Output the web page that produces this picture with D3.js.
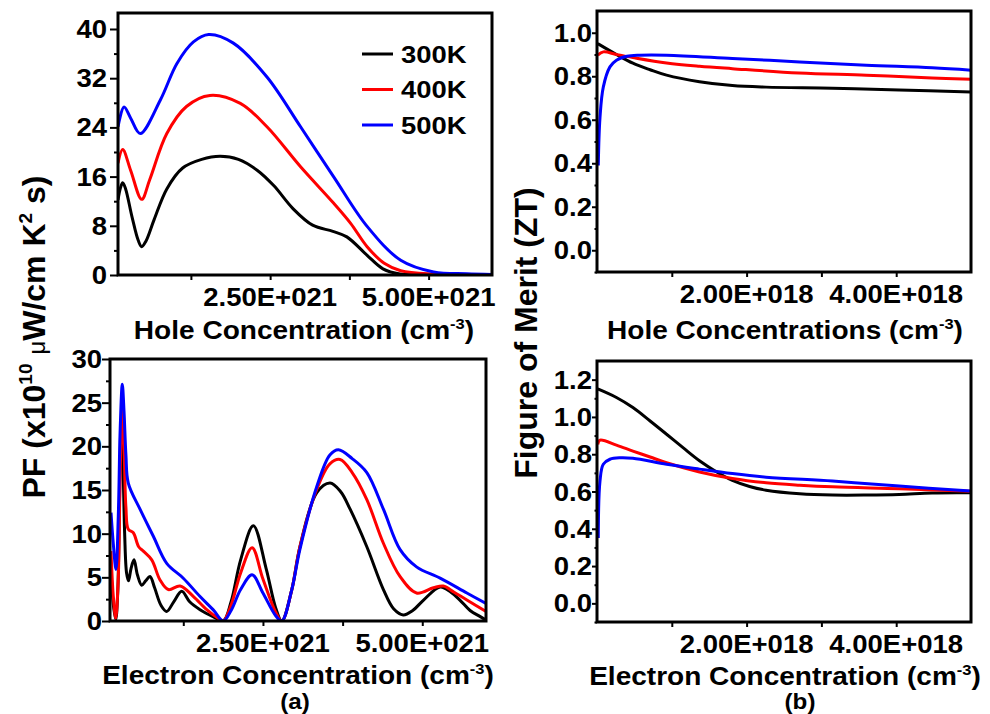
<!DOCTYPE html>
<html lang="en">
<head>
<meta charset="UTF-8">
<script src="https://cdn.jsdelivr.net/npm/d3@7"></script>
<title>PF and ZT</title>
<style>
  body { margin: 0; background: #fff; }
  svg { display: block; }
  text { font-family: "Liberation Sans", Arial, sans-serif; font-weight: bold; fill: #000; }
</style>
</head>
<body>
<div id="chart"></div>
<script>
// ---- data (x in 1e21 cm^-3 for PF panels, 1e18 cm^-3 for ZT panels) ----
var temps = ["300K", "400K", "500K"];
var colors = ["#000000", "#ff0000", "#0000ff"];

var pfHole300 = [[0.1,12.2],[0.14,14.2],[0.174,15.0],[0.22,14.0],[0.32,9.5],[0.42,5.6],[0.474,4.6],[0.54,5.5],[0.67,9.0],[0.87,14.0],[1.12,17.4],[1.42,18.8],[1.71,19.3],[2.0,18.8],[2.3,17.0],[2.56,14.5],[2.86,10.8],[3.17,8.1],[3.49,7.1],[3.71,6.2],[4.03,3.2],[4.28,1.0],[4.55,0.15],[5.0,0.02],[6.0,0]];
var pfHole400 = [[0.1,18.2],[0.174,20.4],[0.3,17.0],[0.474,12.3],[0.6,15.5],[0.87,23.0],[1.18,27.4],[1.55,29.2],[2.03,27.9],[2.45,24.1],[2.98,17.6],[3.5,11.7],[3.77,8.4],[4.03,4.6],[4.3,1.9],[4.56,0.7],[5.08,0.15],[5.6,0.05],[6.0,0.02]];
var pfHole500 = [[0.1,24.1],[0.195,27.3],[0.3,25.5],[0.45,23.0],[0.77,28.5],[1.03,34.4],[1.29,37.9],[1.53,39.1],[1.92,37.7],[2.45,32.2],[2.98,24.1],[3.5,16.0],[4.03,7.9],[4.56,2.4],[5.08,0.5],[5.6,0.2],[6.0,0.1]];

var pfElec300 = [[0.116,6],[0.15,2],[0.19,0.2],[0.22,3],[0.25,14],[0.275,23],[0.3,19],[0.33,10],[0.36,5.5],[0.39,4.6],[0.43,6],[0.477,7.0],[0.53,5.3],[0.598,4.1],[0.66,4.6],[0.728,5.1],[0.8,3.8],[0.9,1.8],[0.99,1.1],[1.1,2.2],[1.226,3.4],[1.35,2.2],[1.513,1.3],[1.717,0.5],[1.878,0],[2.0,2.2],[2.15,7.0],[2.35,10.9],[2.55,6.0],[2.7,1.5],[2.796,0],[2.95,3.5],[3.08,8.5],[3.345,14.7],[3.553,15.8],[3.72,14.8],[3.868,12.8],[4.13,8.5],[4.39,3.6],[4.55,1.4],[4.7,0.7],[4.85,1.2],[5.02,2.4],[5.28,3.9],[5.45,3.3],[5.59,2.4],[5.75,1.2],[5.91,0.5],[6.0,0.1]];
var pfElec400 = [[0.116,8],[0.15,3],[0.19,0.3],[0.23,5],[0.26,17],[0.293,24.3],[0.32,20],[0.35,13],[0.387,10.5],[0.466,10.1],[0.55,8.5],[0.623,8.0],[0.755,7.0],[0.885,4.7],[1.015,3.6],[1.2,4.0],[1.41,2.8],[1.618,1.3],[1.78,0.4],[1.878,0],[2.0,1.8],[2.15,5.5],[2.33,8.4],[2.5,4.8],[2.7,1.0],[2.796,0],[2.95,3.5],[3.08,8.5],[3.345,15.1],[3.55,18.0],[3.71,18.5],[3.9,17.0],[4.13,13.9],[4.39,8.9],[4.65,5.1],[4.91,3.2],[5.175,3.8],[5.33,4.0],[5.5,3.3],[5.7,2.4],[6.0,1.1]];
var pfElec500 = [[0.116,12.4],[0.15,9],[0.194,5.9],[0.23,12],[0.26,22],[0.293,27.1],[0.32,24],[0.35,19],[0.387,15.8],[0.571,12.8],[0.78,9.7],[0.99,6.6],[1.25,4.9],[1.513,2.8],[1.717,1.3],[1.878,0],[2.0,1.2],[2.15,3.6],[2.33,5.3],[2.5,3.2],[2.7,0.6],[2.796,0],[2.95,3.5],[3.08,8.2],[3.345,15.4],[3.55,19.0],[3.684,19.6],[3.9,18.6],[4.13,17.0],[4.39,12.8],[4.65,8.2],[4.91,6.2],[5.28,4.9],[5.7,3.2],[6.0,2.0]];

var ztHole300 = [[0.01,0.95],[0.26,0.90],[0.48,0.86],[0.71,0.83],[0.93,0.805],[1.37,0.775],[1.81,0.757],[2.26,0.75],[3.15,0.745],[4.04,0.737],[5.0,0.728]];
var ztHole400 = [[0.01,0.897],[0.085,0.912],[0.26,0.90],[0.48,0.886],[0.93,0.861],[1.37,0.846],[1.81,0.835],[2.7,0.815],[3.6,0.805],[4.48,0.792],[5.0,0.786]];
var ztHole500 = [[0.017,0.39],[0.04,0.61],[0.084,0.75],[0.173,0.843],[0.26,0.874],[0.40,0.892],[0.57,0.897],[0.93,0.897],[1.81,0.882],[2.71,0.866],[3.6,0.851],[4.48,0.839],[5.0,0.828]];

var ztElec300 = [[0.01,1.15],[0.26,1.104],[0.48,1.05],[0.71,0.978],[0.93,0.907],[1.15,0.835],[1.37,0.765],[1.6,0.705],[1.81,0.66],[2.04,0.627],[2.26,0.607],[2.71,0.588],[3.15,0.581],[3.6,0.581],[4.04,0.584],[4.48,0.592],[5.0,0.593]];
var ztElec400 = [[0.01,0.853],[0.04,0.875],[0.26,0.849],[0.48,0.817],[0.71,0.785],[0.93,0.754],[1.37,0.705],[1.81,0.67],[2.26,0.647],[2.71,0.634],[3.15,0.625],[4.04,0.615],[5.0,0.602]];
var ztElec500 = [[0.017,0.35],[0.04,0.656],[0.084,0.746],[0.173,0.773],[0.31,0.781],[0.48,0.778],[0.93,0.746],[1.37,0.72],[1.81,0.696],[2.26,0.677],[3.15,0.656],[4.04,0.629],[5.0,0.602]];

// tick values and labels
var pfXTicks = [2.5, 5.0], pfXLabels = ["2.50E+021", "5.00E+021"], pfXMinor = [1.25, 3.75];
var ztXTicks = [2, 4], ztXLabels = ["2.00E+018", "4.00E+018"], ztXMinor = [1, 3];
var pfHoleYTicks = [0, 8, 16, 24, 32, 40], pfHoleYMinor = [4, 12, 20, 28, 36];
var pfElecYTicks = [0, 5, 10, 15, 20, 25, 30], pfElecYMinor = [2.5, 7.5, 12.5, 17.5, 22.5, 27.5];
var ztHoleYTicks = [0, 0.2, 0.4, 0.6, 0.8, 1.0], ztHoleYMinor = [-0.1, 0.1, 0.3, 0.5, 0.7, 0.9];
var ztElecYTicks = [0, 0.2, 0.4, 0.6, 0.8, 1.0, 1.2], ztElecYMinor = [-0.1, 0.1, 0.3, 0.5, 0.7, 0.9, 1.1];

var W = 990, H = 714;
var svg = d3.select("#chart").append("svg").attr("width", W).attr("height", H);

// horizontally stretched text helper
function stext(x, y, str, size, anchor, sx) {
  return svg.append("g")
      .attr("transform", "translate(" + x + "," + y + ") scale(" + (sx || 1.1) + ",1)")
    .append("text")
      .attr("text-anchor", anchor || "middle")
      .style("font-size", size + "px")
      .text(str);
}

function panel(p) {
  var x = d3.scaleLinear().domain(p.xDom).range([p.left, p.right]);
  var y = d3.scaleLinear().domain(p.yDom).range([p.bottom, p.top]);

  var clipId = "clip" + p.id;
  svg.append("clipPath").attr("id", clipId)
    .append("rect").attr("x", p.left).attr("y", p.top)
    .attr("width", p.right - p.left).attr("height", p.bottom - p.top);

  // ticks (no labels from the axis, labels drawn below)
  function ticks(axis, tr) {
    var g = svg.append("g").attr("transform", tr).call(axis);
    g.select(".domain").remove();
    g.selectAll("line").attr("stroke", "#000").attr("stroke-width", 2);
    g.selectAll("text").remove();
  }
  ticks(d3.axisLeft(y).tickValues(p.yTicks).tickSize(p.yTick).tickFormat(""), "translate(" + p.left + ",0)");
  ticks(d3.axisLeft(y).tickValues(p.yMinor).tickSize(p.yTick / 2).tickFormat(""), "translate(" + p.left + ",0)");
  ticks(d3.axisBottom(x).tickValues(p.xTicks.concat(p.xMinor)).tickSize(5).tickFormat(""), "translate(0," + p.bottom + ")");

  p.yTicks.forEach(function(v) {
    stext(p.left - p.yTick - p.yGap, y(v) + 9, p.yFmt(v), 25, "end");
  });
  p.xTicks.forEach(function(v, i) {
    stext(x(v), p.bottom + 31, p.xLabels[i], 25, "middle");
  });

  var line = d3.line()
    .x(function(d) { return x(d[0]); })
    .y(function(d) { return y(d[1]); })
    .curve(d3.curveCatmullRom.alpha(0.5));

  var lines = svg.append("g").attr("clip-path", "url(#" + clipId + ")");
  p.series.forEach(function(s, i) {
    lines.append("path")
      .attr("d", line(s))
      .attr("fill", "none")
      .attr("stroke", colors[i])
      .attr("stroke-width", 3)
      .attr("stroke-linejoin", "round");
  });

  svg.append("rect")
    .attr("x", p.left).attr("y", p.top)
    .attr("width", p.right - p.left).attr("height", p.bottom - p.top)
    .attr("fill", "none").attr("stroke", "#000").attr("stroke-width", 3);

  // x title with superscript
  var t = stext(p.titleX, p.titleY, "", 25.5, "middle");
  t.append("tspan").text(p.xTitle + " (cm");
  t.append("tspan").attr("dy", -10).style("font-size", "15px").text("-3");
  t.append("tspan").attr("dy", 10).text(")");
  return {x: x, y: y};
}

var intFmt = function(v) { return String(v); };
var decFmt = d3.format(".1f");

panel({id: 1, left: 118, right: 492, top: 13, bottom: 275, xDom: [0.1, 6], yDom: [0, 42.6],
  xTicks: pfXTicks, xLabels: pfXLabels, xMinor: pfXMinor, yTicks: pfHoleYTicks, yMinor: pfHoleYMinor,
  yTick: 8, yGap: 3, yFmt: intFmt, series: [pfHole300, pfHole400, pfHole500],
  xTitle: "Hole Concentration", titleX: 304, titleY: 339});

panel({id: 2, left: 110, right: 486, top: 359, bottom: 621, xDom: [0.1, 6], yDom: [0, 30],
  xTicks: pfXTicks, xLabels: pfXLabels, xMinor: pfXMinor, yTicks: pfElecYTicks, yMinor: pfElecYMinor,
  yTick: 8, yGap: 0, yFmt: intFmt, series: [pfElec300, pfElec400, pfElec500],
  xTitle: "Electron Concentration", titleX: 298, titleY: 684});

panel({id: 3, left: 597, right: 971, top: 11, bottom: 272, xDom: [0, 5], yDom: [-0.1, 1.1],
  xTicks: ztXTicks, xLabels: ztXLabels, xMinor: ztXMinor, yTicks: ztHoleYTicks, yMinor: ztHoleYMinor,
  yTick: 5, yGap: 0, yFmt: decFmt, series: [ztHole300, ztHole400, ztHole500],
  xTitle: "Hole Concentrations", titleX: 785, titleY: 339});

panel({id: 4, left: 597, right: 971, top: 361, bottom: 622, xDom: [0, 5], yDom: [-0.1, 1.3],
  xTicks: ztXTicks, xLabels: ztXLabels, xMinor: ztXMinor, yTicks: ztElecYTicks, yMinor: ztElecYMinor,
  yTick: 5, yGap: 0, yFmt: decFmt, series: [ztElec300, ztElec400, ztElec500],
  xTitle: "Electron Concentration", titleX: 785, titleY: 685});

// sub-figure marks
stext(295, 709, "(a)", 22, "middle");
stext(800, 709, "(b)", 22, "middle");

// legend in the top-left panel
temps.forEach(function(name, i) {
  var ly = 54 + i * 35.5;
  svg.append("line").attr("x1", 362).attr("x2", 393).attr("y1", ly).attr("y2", ly)
    .attr("stroke", colors[i]).attr("stroke-width", 3);
  stext(401, ly + 8.5, name, 24.5, "start", 1.12);
});

// y titles (rotated)
var pf = svg.append("text")
  .attr("transform", "translate(45,337) rotate(-90)")
  .attr("text-anchor", "middle")
  .style("font-size", "32px");
pf.append("tspan").text("PF (x10");
pf.append("tspan").attr("dy", -13).style("font-size", "19px").text("10");
pf.append("tspan").attr("dy", 13).text(" ");
pf.append("tspan").style("font-size", "24px").style("font-weight", "normal").text("\u03bc");
pf.append("tspan").text("W/cm K");
pf.append("tspan").attr("dy", -13).style("font-size", "19px").text("2");
pf.append("tspan").attr("dy", 13).text(" s)");

svg.append("text")
  .attr("transform", "translate(537,333) rotate(-90)")
  .attr("text-anchor", "middle")
  .style("font-size", "32px")
  .text("Figure of Merit (ZT)");
</script>
</body>
</html>
